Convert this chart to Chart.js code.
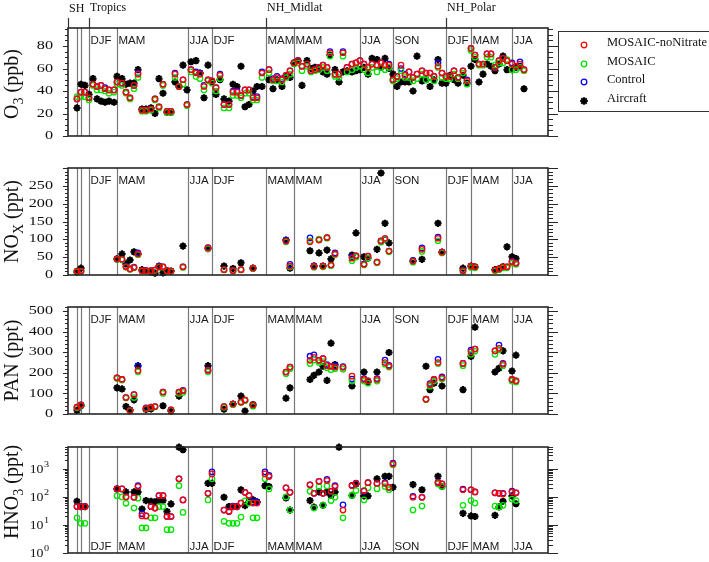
<!DOCTYPE html>
<html>
<head>
<meta charset="utf-8">
<script src="https://cdn.jsdelivr.net/npm/chart.js@4.4.0/dist/chart.umd.min.js"></script>
<style>
  body { margin: 0; background: #fff; width: 709px; height: 562px; overflow: hidden; position: relative; }
  canvas { position: absolute; left: 0; }
  #legend { position: absolute; left: 558px; top: 31px; width: 170px; height: 81px; border: 1px solid #333; box-sizing: border-box; }
  #legend .item { position: absolute; left: 0; height: 18px; width: 170px; }
  #legend svg { position: absolute; left: 19px; top: 4px; }
  #legend span { position: absolute; left: 48px; top: 0; line-height: 18px; font: 12.5px 'Liberation Serif', 'Times New Roman', serif; color: #111; white-space: nowrap; }
</style>
</head>
<body>
<canvas id="c1" width="709" height="150" style="top:0px"></canvas>
<canvas id="c2" width="709" height="140" style="top:150px"></canvas>
<canvas id="c3" width="709" height="138" style="top:290px"></canvas>
<canvas id="c4" width="709" height="134" style="top:428px"></canvas>
<div id="legend"></div>
<script>
const SERIF = "'Liberation Serif', 'Times New Roman', serif";
const SANS = "'Liberation Sans', Arial, sans-serif";

// x positions are profile slots along the flight sequence (0..480)
const dividers = [9, 13, 21, 49, 120, 144, 198, 226, 292, 325, 378, 403, 444];
const seasonAt = [21, 49, 120, 144, 198, 226, 292, 325, 378, 403, 444];
const seasonNames = ['DJF', 'MAM', 'JJA', 'DJF', 'MAM', 'MAM', 'JJA', 'SON', 'DJF', 'MAM', 'JJA'];
const regionAt = [0, 21, 198, 378];
const regionNames = ['SH', 'Tropics', 'NH_Midlat', 'NH_Polar'];
const seriesNames = ['MOSAIC-noNitrate', 'MOSAIC', 'Control', 'Aircraft'];
const seriesColors = ['#ff0000', '#00e600', '#0000ff', '#000000'];

// O3 (ppb)
const o3Pos = [9, 13, 17, 21, 25, 29, 33, 37, 41, 46,
  49, 54, 58, 62, 66, 70, 74, 78, 83, 87, 91, 95, 99, 103, 107, 111, 115, 119,
  123, 128, 132, 136, 140, 144,
  148, 152, 156, 161, 165, 169, 173, 177, 181, 185, 189, 194,
  201, 205, 209, 214, 218, 222,
  226, 230, 234, 239, 243, 247, 251, 255, 259, 262, 267, 271, 275, 279, 284, 288,
  292, 296, 300, 304, 309, 313, 317, 321,
  325, 329, 333, 337, 341, 345, 349, 354, 358, 362, 366, 370,
  374, 378, 382, 386, 390, 395, 399,
  403, 407, 411, 415, 419, 423, 427, 431, 435, 439, 444,
  448, 452, 456];
const o3Red = [33, 39, 39, 34, 46, 44, 45, 42, 41, 41,
  48, 47, 39, 34, 45, 55, 23, 23, 24, 33, 26, 46, 22, 22, 55, 44, 50, 28,
  59, 56, 55, 44, 50, 49,
  43, 54, 28, 28, 39, 39, 36, 41, 41, 34, 34, 56,
  59, 50, 52, 50, 54, 58,
  65, 67, 62, 64, 58, 59, 61, 63, 61, 74, 55, 55, 74, 61, 64, 65,
  67, 64, 61, 64, 63, 65, 63, 63,
  50, 53, 63, 54, 57, 52, 55, 58, 56, 56, 53, 62,
  56, 53, 53, 58, 52, 58, 49,
  78, 72, 64, 64, 73, 73, 61, 67, 69, 67, 64,
  62, 64, 59];
const o3Green = [35, 35, 35, 32, 45, 41, 41, 40, 38, 39,
  46, 45, 38, 33, 42, 52, 22, 22, 23, 32, 25, 45, 21, 21, 52, 44, 46, 27,
  57, 53, 51, 41, 49, 47,
  40, 51, 25, 25, 36, 36, 34, 38, 38, 32, 32, 52,
  56, 49, 49, 48, 52, 55,
  64, 65, 58, 62, 57, 58, 59, 61, 58, 71, 53, 52, 71, 57, 59, 61,
  62, 59, 56, 61, 57, 61, 59, 61,
  49, 51, 58, 52, 52, 49, 51, 55, 50, 52, 49, 61,
  52, 51, 51, 55, 51, 56, 46,
  76, 70, 63, 63, 70, 70, 63, 65, 65, 68, 59,
  59, 61, 58];
const o3Blue = [33, 39, 39, 34, 46, 44, 45, 43, 41, 41,
  48, 47, 39, 34, 45, 56, 23, 23, 24, 33, 26, 46, 22, 22, 56, 44, 50, 28,
  59, 57, 56, 45, 50, 49,
  43, 55, 28, 28, 40, 40, 36, 41, 41, 35, 35, 57,
  59, 51, 53, 51, 54, 58,
  65, 67, 62, 64, 58, 59, 61, 63, 61, 75, 55, 55, 75, 61, 64, 65,
  67, 64, 61, 64, 63, 65, 63, 64,
  50, 53, 60, 55, 57, 52, 55, 58, 56, 56, 53, 65,
  56, 53, 53, 58, 52, 58, 50,
  78, 72, 64, 64, 73, 73, 61, 67, 69, 67, 65,
  62, 66, 59];
const o3Air = [25, 46, 45, 37, 51, 33, 31, 30, 31, 30,
  53, 51, 46, 47, 47, 59, 24, 24, 25, 20, 51, 38, 21, 21, 48, 44, 63, 41,
  66, 67, 56, 34, 63, 48,
  37, 50, 33, 31, 46, 44, 62, 26, 28, 40, 44, 44,
  50, 42, 50, 44, 53, 52,
  65, 67, 45, 67, 60, 61, 60, 57, 55, 72, 59, 48, 57, 58, 57, 58,
  59, 61, 55, 69, 68, 61, 69, 60,
  55, 44, 48, 48, 48, 40, 71, 49, 50, 44, 50, 68,
  47, 47, 54, 50, 47, 54, 47,
  62, 68, 48, 55, 64, 62, 58, 64, 71, 59, 59,
  61, 62, 42];

// NOx (ppt)
const noxPos = [9, 13, 49, 54, 58, 62, 66, 70, 74, 78, 83, 87, 91, 95, 99, 103, 115, 140,
  156, 165, 173, 185, 218, 222, 242, 246, 251, 255, 259, 263, 267, 284, 288,
  296, 300, 309, 313, 317, 321, 345, 354, 370, 374, 395, 403, 407, 427, 431, 435, 439, 444, 448];
const noxRed = [11, 11, 45, 44, 23, 17, 21, 59, 12, 12, 12, 14, 23, 23, 12, 11, 23, 76,
  15, 12, 15, 19, 95, 25, 93, 24, 98, 25, 105, 28, 59, 47, 54,
  30, 53, 36, 95, 103, 67, 39, 72, 103, 64, 12, 25, 23, 14, 17, 23, 23, 37, 33];
const noxGreen = [10, 10, 44, 42, 22, 16, 20, 57, 11, 11, 11, 13, 22, 22, 11, 10, 21, 74,
  14, 11, 14, 18, 93, 23, 96, 22, 101, 23, 103, 26, 57, 40, 50,
  28, 47, 34, 92, 100, 65, 36, 66, 96, 62, 9, 21, 20, 12, 15, 20, 20, 33, 30];
const noxBlue = [11, 11, 45, 44, 24, 17, 22, 62, 12, 12, 12, 14, 24, 23, 12, 11, 23, 77,
  15, 12, 15, 19, 98, 30, 104, 26, 99, 25, 105, 28, 62, 51, 54,
  31, 53, 36, 96, 99, 67, 41, 76, 106, 64, 13, 25, 23, 14, 17, 23, 23, 38, 34];
const noxAir = [8, 19, 45, 59, 31, 42, 65, 59, 15, 12, 9, 5, 25, 6, 12, 11, 81, 74,
  25, 18, 34, 19, 98, 19, 68, 25, 62, 25, 70, 45, null, 56, 118,
  51, 47, 72, 286, 145, 90, 39, 44, 145, 64, 19, 25, 22, 15, 17, 23, 79, 51, 46];

// PAN (ppt)
const panPos = [9, 13, 49, 54, 58, 62, 66, 70, 78, 83, 87, 95, 103, 111, 115, 140,
  156, 165, 173, 177, 185, 218, 222, 242, 246, 251, 255, 259, 263, 267, 275, 284,
  296, 300, 309, 317, 321, 358, 362, 366, 370, 374, 395, 403, 407, 427, 431, 435, 444, 448];
const panRed = [33, 44, 176, 168, 80, 17, 94, 212, 27, 33, 36, 107, 20, 107, 113, 212,
  36, 48, 58, 68, 44, 204, 228, 261, 275, 261, 269, 235, 232, 228, 227, 184,
  168, 161, 168, 250, 233, 72, 143, 168, 250, 176, 246, 302, 316, 307, 319, 242, 168, 161];
const panGreen = [30, 42, 172, 165, 78, 15, 80, 205, 25, 31, 34, 100, 18, 100, 105, 205,
  33, 45, 56, 65, 38, 196, 220, 245, 262, 250, 255, 225, 215, 220, 218, 160,
  160, 150, 160, 242, 228, 70, 135, 160, 245, 170, 235, 290, 305, 290, 312, 235, 160, 155];
const panBlue = [33, 44, 176, 168, 80, 17, 94, 233, 30, 33, 36, 107, 20, 107, 115, 215,
  36, 48, 58, 68, 44, 204, 228, 281, 288, 261, 269, 240, 232, 235, 230, 170,
  172, 161, 172, 262, 237, 72, 148, 168, 266, 180, 246, 310, 316, 307, 335, 246, 168, 161];
const panAir = [18, 40, 127, 122, 36, 20, 69, 235, 22, 25, null, 40, 14, 87, null, 235,
  23, 48, 87, 14, 46, 77, 127, 168, 188, 204, 232, 163, 344, 240, null, 136,
  204, 156, 204, null, 299, 232, 118, 150, null, 136, 118, 280, 422, 204, 222, 307, 209, 286];

// HNO3 (ppt)
const hno3Pos = [9, 13, 17, 49, 54, 58, 66, 70, 74, 78, 83, 87, 91, 95, 99, 103, 111, 115, 140, 144,
  156, 161, 165, 169, 173, 177, 181, 185, 189, 197, 201, 218, 222,
  242, 246, 251, 255, 259, 263, 267, 271, 275, 284, 288,
  296, 300, 309, 317, 321, 325, 345, 354, 370, 374, 395, 403, 407, 427, 431, 435, 444, 448];
const hno3Red = [45, 45, 45, 193, 193, 100, 97, 235, 21, 21, 45, 40, 112, 112, 20, 20, 440, 78, 134, 660,
  34, 30, 45, 45, 60, 145, 112, 60, 60, 660, 530, 210, 145,
  270, 134, 360, 134, 380, 158, 235, null, 34, 250, 300,
  168, 320, 300, 300, 220, 1500, 97, 97, 320, 290, 180, 180, 150, 140, 134, 128, 150, 140];
const hno3Green = [18, 11.4, 11.4, 110, 100, 59, 40, 90, 7.8, 7.8, 18, 18, 45, 45, 6.8, 6.8, 250, 28, 78, 440,
  13.5, 11.4, 11.4, 11.4, 19, 72, 60, 18, 18, 440, 193, 100, 34,
  158, 40, 235, 50, 245, 74, 97, null, 18, 113, 168,
  78, 210, 193, 235, 180, 1400, 34, 47, 290, 235, 50, 74, 60, 47, 44, 50, 84, 74];
const hno3Blue = [45, 45, 45, 193, 193, 100, 97, 250, 25, 21, 45, 40, 112, 112, 20, 20, 440, 78, 134, 780,
  34, 30, 47, 45, 60, 145, 112, 66, 66, 780, 580, 210, 145,
  270, 134, 360, 134, 420, 158, 250, null, 52, 260, 310,
  160, 320, 300, 320, 220, 1600, 105, 97, 340, 290, 190, 180, 150, 140, 134, 134, 160, 140];
const hno3Air = [70, 45, 45, 193, null, 150, 150, 150, 37, 74, 70, 67, 74, 74, 30, 56, 5900, 4800, 305, 305,
  97, 45, 45, 45, 178, 49, 67, 79, 66, 250, 235, 92, 34,
  74, 43, 150, 50, 150, 113, 150, 5900, null, 113, 287,
  108, 108, 440, 540, 540, 220, 275, 180, 540, 235, 26, 21, 20, 22, 44, 70, 108, 57];

function toXY(pos, vals) {
  const out = [];
  pos.forEach((p, i) => {
    if (vals[i] !== null && vals[i] !== undefined) out.push({ x: p, y: vals[i] });
  });
  return out;
}

function steps(from, to, step) {
  const out = [];
  for (let v = from; v <= to + 1e-9; v += step) out.push(v);
  return out;
}

function logMinors(max) {
  const out = [];
  [1, 10, 100, 1000].forEach(d => {
    for (let k = 2; k <= 9; k++) if (k * d <= max) out.push(k * d);
  });
  return out;
}

function stretchText(ctx, txt, x, y, size, sx, align) {
  ctx.save();
  ctx.translate(x, y);
  ctx.scale(sx, 1);
  ctx.font = size + 'px ' + SERIF;
  ctx.textAlign = align;
  ctx.textBaseline = 'middle';
  ctx.fillText(txt, 0, 0);
  ctx.restore();
}

const decor = {
  id: 'decor',
  beforeDatasetsDraw(chart, args, o) {
    const { ctx, chartArea: a, scales: { x } } = chart;
    ctx.save();
    ctx.strokeStyle = '#777';
    ctx.lineWidth = 1.2;
    dividers.forEach(v => {
      const px = Math.round(x.getPixelForValue(v)) + 0.5;
      ctx.beginPath();
      ctx.moveTo(px, a.top);
      ctx.lineTo(px, a.bottom);
      ctx.stroke();
    });
    ctx.fillStyle = '#1a1a1a';
    ctx.font = '11.5px ' + SANS;
    ctx.textAlign = 'left';
    ctx.textBaseline = 'alphabetic';
    const ty = o.seasonsAtBottom ? a.bottom - 3.5 : a.top + 15.5;
    seasonAt.forEach((v, i) => ctx.fillText(seasonNames[i], x.getPixelForValue(v) + 1.5, ty));
    ctx.restore();
  },
  afterDraw(chart, args, o) {
    const { ctx, chartArea: a, scales: { x, y } } = chart;
    ctx.save();
    ctx.strokeStyle = '#262626';
    ctx.lineWidth = 1.6;
    ctx.strokeRect(a.left, a.top, a.right - a.left, a.bottom - a.top);

    ctx.lineWidth = 1;
    const tick = (v, lenL, lenR) => {
      const py = Math.round(y.getPixelForValue(v)) + 0.5;
      ctx.beginPath();
      ctx.moveTo(a.left - lenL, py);
      ctx.lineTo(a.left, py);
      ctx.moveTo(a.right, py);
      ctx.lineTo(a.right + lenR, py);
      ctx.stroke();
    };
    o.minor.forEach(v => tick(v, 3, 5));
    o.major.forEach(v => tick(v, 5, 10));

    ctx.fillStyle = '#111';
    o.labels.forEach((v, i) => {
      const py = y.getPixelForValue(v);
      if (o.log) {
        stretchText(ctx, '10', 43.5, py + 1, 12, 1.15, 'right');
        stretchText(ctx, String(i), 44, py - 4, 8.5, 1.2, 'left');
      } else {
        stretchText(ctx, String(v), 53, py, 12, 1.35, 'right');
      }
    });

    // y title with subscript, centred on the plot area
    ctx.save();
    ctx.translate(17.5, (a.top + a.bottom) / 2 + (o.titleShift || 0));
    ctx.rotate(-Math.PI / 2);
    ctx.textBaseline = 'alphabetic';
    ctx.textAlign = 'left';
    let total = 0;
    o.title.forEach(([t, sub]) => {
      ctx.font = (sub ? 14 : 20) + 'px ' + SERIF;
      total += ctx.measureText(t).width;
    });
    let tx = -total / 2;
    o.title.forEach(([t, sub]) => {
      ctx.font = (sub ? 14 : 20) + 'px ' + SERIF;
      ctx.fillText(t, tx, sub ? 5 : 0);
      tx += ctx.measureText(t).width;
    });
    ctx.restore();

    if (o.regions) {
      ctx.strokeStyle = '#333';
      ctx.lineWidth = 1.2;
      ctx.font = '12px ' + SERIF;
      ctx.textAlign = 'left';
      ctx.textBaseline = 'alphabetic';
      regionAt.forEach((v, i) => {
        const px = Math.round(x.getPixelForValue(v)) + 0.5;
        ctx.beginPath();
        ctx.moveTo(px, 18);
        ctx.lineTo(px, a.top);
        ctx.stroke();
        ctx.fillText(regionNames[i], px + 0.5, i === 0 ? 12 : 10.5);
      });
    }
    ctx.restore();
  }
};

function makePanel(id, pos, red, green, blue, air, cfg) {
  const circle = (vals, i) => ({
    label: seriesNames[i],
    data: toXY(pos, vals),
    pointStyle: 'circle',
    pointRadius: 2.7,
    pointHoverRadius: 2.7,
    borderWidth: 1.3,
    borderColor: seriesColors[i],
    backgroundColor: 'rgba(0,0,0,0)',
    clip: false
  });
  const datasets = [
    circle(red, 0),
    circle(green, 1),
    circle(blue, 2),
    {
      label: seriesNames[3],
      data: toXY(pos, air),
      pointStyle: 'star',
      pointRadius: 3.6,
      pointHoverRadius: 3.6,
      borderWidth: 2,
      borderColor: '#000',
      backgroundColor: '#000',
      clip: false
    }
  ];
  return new Chart(document.getElementById(id), {
    type: 'scatter',
    data: { datasets },
    options: {
      responsive: false,
      animation: false,
      devicePixelRatio: 1,
      layout: { padding: { left: 0, right: 161, top: cfg.padTop, bottom: cfg.padBottom } },
      scales: {
        x: { type: 'linear', display: false, min: 0, max: 480 },
        y: {
          type: cfg.log ? 'logarithmic' : 'linear',
          min: cfg.min,
          max: cfg.max,
          afterFit: s => { s.width = 68; },
          ticks: { display: false },
          grid: { display: false, drawTicks: false },
          border: { display: false }
        }
      },
      plugins: { legend: { display: false }, tooltip: { enabled: false }, decor: cfg }
    },
    plugins: [decor]
  });
}

makePanel('c1', o3Pos, o3Red, o3Green, o3Blue, o3Air, {
  padTop: 28, padBottom: 14, min: 0, max: 96,
  major: [0, 20, 40, 60, 80], labels: [0, 20, 40, 60, 80], minor: steps(0, 95, 5),
  title: [['O', false], ['3', true], [' (ppb)', false]], titleShift: 2, regions: true
});
makePanel('c2', noxPos, noxRed, noxGreen, noxBlue, noxAir, {
  padTop: 18, padBottom: 15, min: 0, max: 300,
  major: steps(0, 300, 50), labels: steps(0, 250, 50), minor: steps(0, 300, 10),
  title: [['NO', false], ['X', true], [' (ppt)', false]]
});
makePanel('c3', panPos, panRed, panGreen, panBlue, panAir, {
  padTop: 17, padBottom: 14, min: 0, max: 520,
  major: steps(0, 500, 100), labels: steps(0, 500, 100), minor: steps(0, 520, 20),
  title: [['PAN (ppt)', false]]
});
makePanel('c4', hno3Pos, hno3Red, hno3Green, hno3Blue, hno3Air, {
  padTop: 19, padBottom: 9, min: 1, max: 6000, log: true,
  major: [1, 10, 100, 1000], labels: [1, 10, 100, 1000], minor: logMinors(6000),
  title: [['HNO', false], ['3', true], [' (ppt)', false]], titleShift: -8, seasonsAtBottom: true
});

// legend
const legend = document.getElementById('legend');
const rowTops = [3, 22, 40, 59];
seriesNames.forEach((name, i) => {
  const item = document.createElement('div');
  item.className = 'item';
  item.style.top = rowTops[i] + 'px';
  let marker;
  if (i < 3) {
    marker = `<svg width="12" height="12"><circle cx="6" cy="6" r="2.8" fill="none" stroke="${seriesColors[i]}" stroke-width="1.3"/></svg>`;
  } else {
    marker = '<svg width="12" height="12" stroke="#000" stroke-width="2">' +
      '<line x1="6" y1="2.2" x2="6" y2="9.8"/><line x1="2.2" y1="6" x2="9.8" y2="6"/>' +
      '<line x1="3.3" y1="3.3" x2="8.7" y2="8.7"/><line x1="3.3" y1="8.7" x2="8.7" y2="3.3"/></svg>';
  }
  item.innerHTML = marker + '<span>' + name + '</span>';
  legend.appendChild(item);
});
</script>
</body>
</html>
